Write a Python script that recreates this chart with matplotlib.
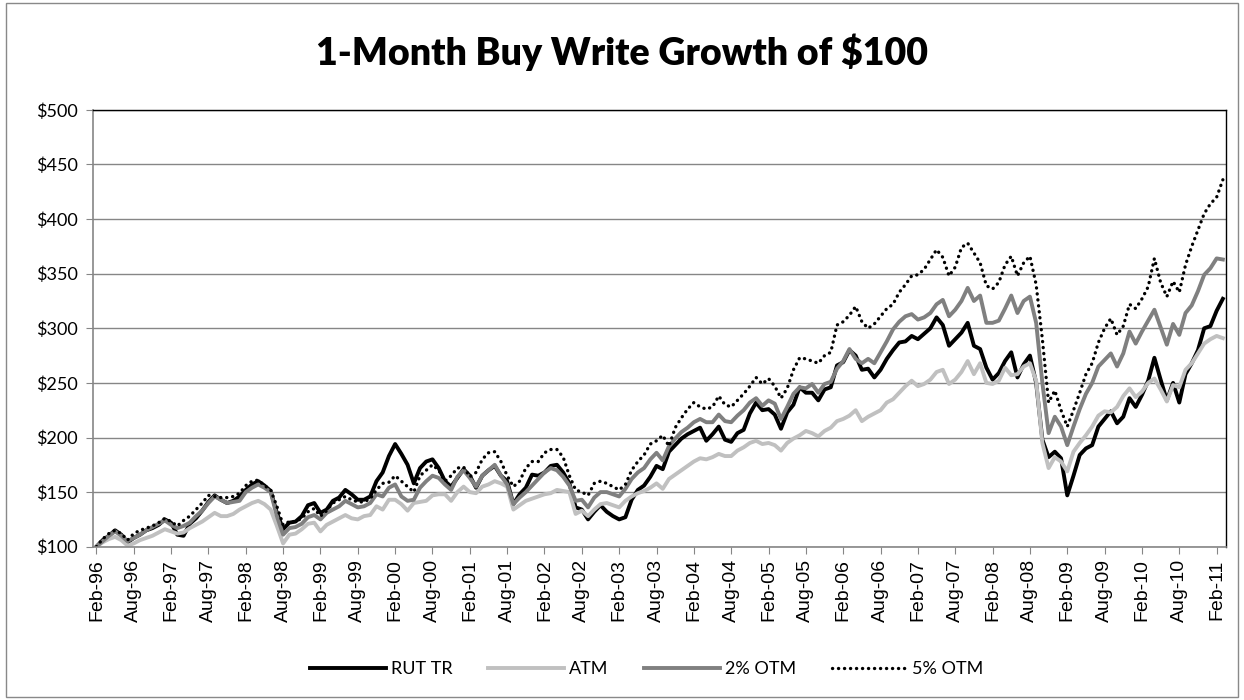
import numpy as np
import matplotlib
matplotlib.use("Agg")
import matplotlib.pyplot as plt
from matplotlib.patches import Rectangle
from matplotlib.ticker import FuncFormatter

# monthly values, Feb-96 .. Mar-11 (one row = Feb..Jan of next year)
rut_tr = [
    100, 106, 110, 115, 111, 104, 108, 111, 115, 117, 120, 125,
    122, 111, 110, 121, 126, 133, 141, 147, 143, 140, 142, 146,
    152, 157, 160, 156, 151, 131, 116, 122, 123, 128, 138, 140,
    131, 134, 142, 145, 152, 148, 143, 143, 146, 160, 168, 183,
    194, 185, 175, 158, 172, 178, 180, 172, 160, 155, 163, 171,
    165, 154, 165, 170, 174, 165, 160, 139, 148, 154, 166, 165,
    168, 174, 175, 168, 158, 136, 134, 125, 132, 138, 132, 128,
    125, 127, 143, 152, 156, 164, 174, 171, 187, 193, 199, 203,
    206, 209, 197, 203, 210, 198, 196, 204, 207, 222, 232, 225,
    226, 221, 208, 223, 230, 246, 241, 241, 234, 244, 246, 266,
    269, 280, 275, 262, 263, 255, 262, 272, 280, 287, 288, 293,
    290, 295, 300, 310, 303, 284, 290, 296, 305, 284, 281, 264,
    253, 259, 270, 278, 255, 267, 275, 250, 198, 182, 187, 181,
    147, 165, 184, 190, 193, 210, 217, 224, 213, 219, 236, 228,
    239, 252, 273, 253, 234, 250, 232, 258, 268, 280, 300, 302,
    316, 327,
]
atm = [
    100, 104, 107, 109, 106, 101, 103, 106, 108, 110, 113, 116,
    114, 112, 113, 117, 120, 123, 127, 131, 128, 128, 130, 134,
    137, 140, 142, 139, 134, 119, 103, 111, 112, 116, 121, 122,
    114, 120, 123, 126, 129, 126, 125, 128, 129, 137, 134, 143,
    143, 139, 133, 140, 141, 142, 147, 148, 148, 142, 150, 155,
    150, 149, 155, 157, 160, 158, 155, 134, 138, 142, 144, 146,
    148, 149, 152, 151, 150, 130, 133, 128, 134, 139, 140, 138,
    136, 142, 146, 149, 151, 154, 158, 153, 162, 166, 170, 174,
    178, 181, 180, 182, 185, 183, 183, 188, 191, 195, 197, 194,
    195, 193, 188, 195, 199, 202, 206, 204, 201, 206, 209, 215,
    217, 220, 225, 215, 219, 222, 225, 232, 235, 241, 247, 252,
    247, 249, 253, 260, 262, 249, 253, 260, 270, 258, 268, 250,
    249, 252, 264, 257, 258, 265, 268, 252, 195, 172, 182, 178,
    169, 187, 195, 202, 210, 220, 224, 223, 228, 238, 245, 237,
    242, 250, 254, 244, 233, 248, 246, 262, 268, 277, 286, 290,
    293, 291,
]
otm_2 = [
    100, 105, 110, 114, 110, 105, 108, 111, 115, 118, 121, 124,
    120, 117, 119, 122, 128, 133, 140, 146, 143, 140, 141, 142,
    150, 154, 157, 154, 150, 128, 111, 117, 118, 121, 127, 129,
    125, 131, 134, 137, 142, 139, 136, 137, 140, 148, 146, 154,
    157, 146, 142, 143, 154, 160, 165, 163, 157, 152, 164, 170,
    163, 155, 165, 170, 175, 165, 157, 139, 145, 150, 156, 162,
    168, 172, 170, 164, 156, 142, 143, 136, 145, 150, 150, 148,
    146, 153, 162, 168, 172, 180, 186, 179, 192, 199, 205, 209,
    214, 217, 214, 214, 221, 215, 214, 220, 225, 232, 236, 229,
    234, 231, 217, 228, 240, 246, 245, 249, 241, 249, 251, 263,
    270, 281, 272, 268, 272, 268, 278, 288, 299, 306, 311, 313,
    308, 310, 314, 322, 326, 311, 317, 325, 337, 325, 330, 305,
    305, 307, 318, 330, 314, 325, 329, 305, 250, 204, 219, 210,
    193, 210, 226, 240, 250, 265, 271, 277, 265, 277, 297, 286,
    297, 307, 317, 301, 285, 304, 294, 314, 321, 334, 349, 355,
    364, 363,
]
otm_5 = [
    100, 107, 112, 115, 112, 106, 112, 115, 117, 119, 122, 126,
    123, 119, 124, 128, 134, 140, 147, 146, 145, 145, 146, 149,
    156, 160, 161, 156, 152, 137, 120, 123, 123, 126, 132, 135,
    128, 133, 140, 143, 146, 143, 141, 141, 144, 152, 158, 159,
    165, 160, 155, 150, 165, 170, 175, 170, 160, 165, 172, 173,
    164, 168, 180, 186, 187, 178, 165, 155, 160, 172, 178, 178,
    186, 189, 189, 182, 165, 152, 150, 147, 158, 160, 158, 155,
    152, 157, 170, 178, 184, 194, 197, 202, 192, 209, 218, 226,
    232, 228, 226, 228, 238, 230, 228, 234, 240, 247, 255, 249,
    254, 247, 236, 245, 262, 273, 272, 270, 268, 275, 278, 303,
    306, 312, 320, 306, 300, 304, 311, 318, 322, 333, 340, 348,
    349, 354, 363, 372, 365, 348, 356, 374, 378, 369, 360, 339,
    336, 342, 358, 366, 348, 360, 366, 340, 290, 232, 243, 225,
    210, 225, 241, 258, 268, 287, 300, 309, 294, 302, 322, 318,
    327, 338, 364, 342, 329, 343, 333, 358, 375, 390, 405, 414,
    420, 436,
]
tick_labels = [
    "Feb-96", "Aug-96", "Feb-97", "Aug-97", "Feb-98", "Aug-98", "Feb-99", "Aug-99",
    "Feb-00", "Aug-00", "Feb-01", "Aug-01", "Feb-02", "Aug-02", "Feb-03", "Aug-03",
    "Feb-04", "Aug-04", "Feb-05", "Aug-05", "Feb-06", "Aug-06", "Feb-07", "Aug-07",
    "Feb-08", "Aug-08", "Feb-09", "Aug-09", "Feb-10", "Aug-10", "Feb-11",
]

x = np.arange(len(rut_tr))

fig = plt.figure(figsize=(12.44, 7), dpi=100)
fig.patches.append(Rectangle((0.005, 0.004), 0.99, 0.992, transform=fig.transFigure,
                             fill=False, edgecolor="#898989", lw=1))
ax = fig.add_axes([0.075, 0.219, 0.9105, 0.624])

ax.plot(x, rut_tr, color="black", lw=2.8, label="RUT TR", solid_joinstyle="round")
ax.plot(x, atm, color="#c0c0c0", lw=2.8, label="ATM", solid_joinstyle="round")
ax.plot(x, otm_2, color="#808080", lw=2.8, label="2% OTM", solid_joinstyle="round")
ax.plot(x, otm_5, color="black", lw=2.4, label="5% OTM",
        linestyle=(0, (0.05, 1.75)), dash_capstyle="round")

ax.set_xlim(-0.5, len(x) - 0.5)
ax.set_ylim(100, 500)
ax.set_yticks(range(100, 501, 50))
ax.yaxis.set_major_formatter(FuncFormatter(lambda v, p: "$%d" % v))
ax.set_xticks(range(0, 181, 6))
ax.set_xticklabels(tick_labels, rotation=90, fontfamily="Liberation Sans", fontsize=14)
for t in ax.get_yticklabels():
    t.set_fontfamily("Lato")
    t.set_fontsize(13)
ax.tick_params(axis="y", length=5, color="#868686", pad=6)
ax.tick_params(axis="x", length=5, color="#868686", pad=4)

ax.grid(axis="y", color="#868686", lw=1)
ax.set_axisbelow(True)
for s in ["left", "bottom"]:
    ax.spines[s].set_color("#868686")
    ax.spines[s].set_linewidth(1.2)
for s in ["top", "right"]:
    ax.spines[s].set_color("black")
    ax.spines[s].set_linewidth(1)

fig.text(0.5, 0.925, "1-Month Buy Write Growth of $100", ha="center", va="center",
         fontfamily="Lato", fontweight="heavy", fontsize=27)

fig.legend(loc="center", bbox_to_anchor=(0.52, 0.044), ncol=4, frameon=False,
           prop={"family": "Lato", "size": 13}, handlelength=4.2,
           handletextpad=0.25, columnspacing=2.0)

plt.savefig("out.png", dpi=100)
